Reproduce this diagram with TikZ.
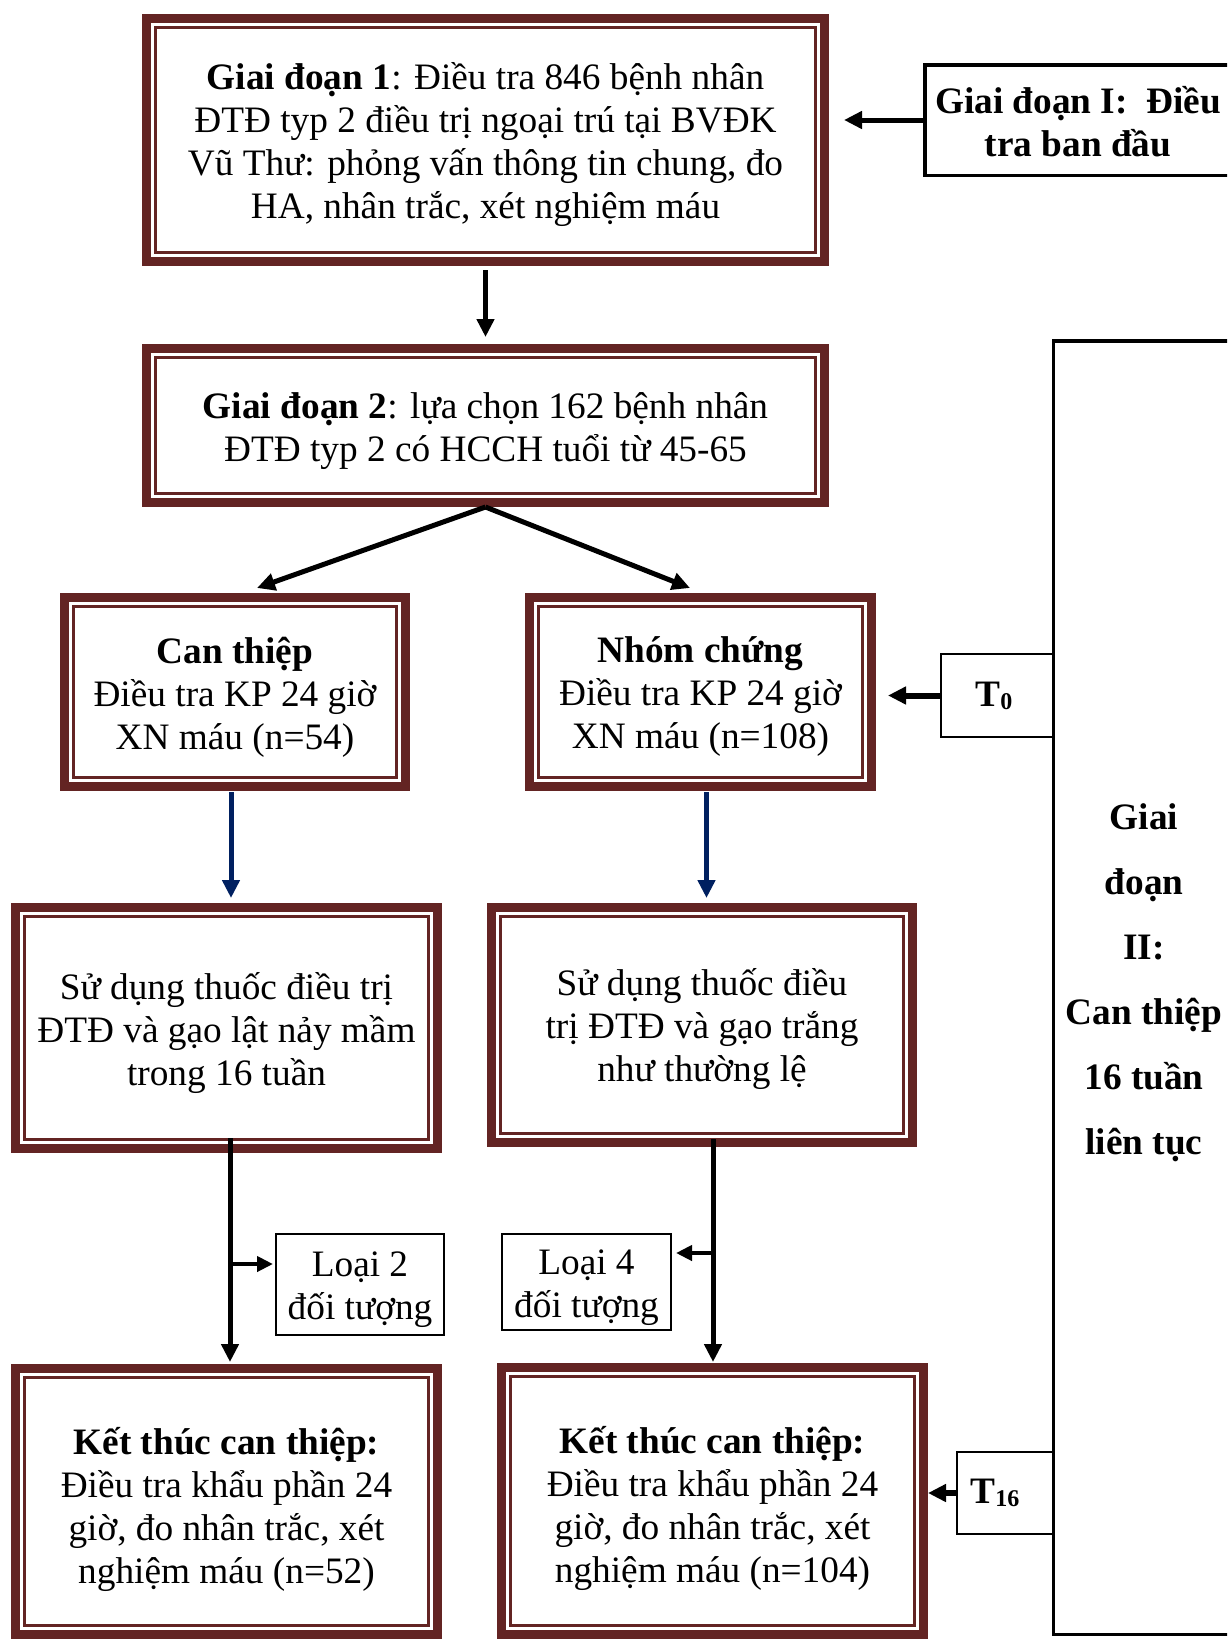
\documentclass[tikz,border=0pt]{standalone}
\usepackage{fontspec}
\setmainfont{Liberation Serif}
\usetikzlibrary{arrows.meta,calc}
\definecolor{boxred}{RGB}{99,36,35}
\definecolor{arrowblue}{RGB}{0,32,96}
\begin{document}
\begin{tikzpicture}[x=1pt,y=-1pt,
  txt/.style={font=\fontsize{37.3pt}{43pt}\selectfont, align=center, inner sep=0pt},
  dbox/.style={draw=boxred, line width=9pt, fill=white, inner sep=0pt,
    path picture={\draw[boxred,line width=3pt]
      ([shift={(9pt,-9pt)}]path picture bounding box.north west) rectangle
      ([shift={(-9pt,9pt)}]path picture bounding box.south east);}},
  sbox/.style={draw=black, line width=2pt, fill=white, inner sep=0pt},
  tbox/.style={draw=black, line width=3.5pt, fill=white, inner sep=0pt},
  arr/.style={draw=black, line width=5pt, -{Triangle[length=18pt,width=17pt]}},
  barr/.style={draw=arrowblue, line width=5pt, -{Triangle[length=18pt,width=17pt]}},
  sarr/.style={draw=black, line width=4.5pt, -{Triangle[length=16pt,width=15pt]}}
]
\useasboundingbox (0,0) rectangle (1227,1639);
\clip (0,0) rectangle (1227,1639);

% main double boxes
\node[dbox, minimum width=678pt, minimum height=243pt] (b1) at (485.5,140) {};
\node[txt] (b1t) at ($(b1.center)+(0,4.5)$)
  {\textbf{Giai đoạn 1}: Điều tra 846 bệnh nhân\\ĐTĐ typ 2 điều trị ngoại trú tại BVĐK\\Vũ Thư: phỏng vấn thông tin chung, đo\\HA, nhân trắc, xét nghiệm máu};
\node[dbox, minimum width=678pt, minimum height=154pt] (b2) at (485.5,425.5) {};
\node[txt] (b2t) at ($(b2.center)+(0,5.5)$)
  {\textbf{Giai đoạn 2}: lựa chọn 162 bệnh nhân\\ĐTĐ typ 2 có HCCH tuổi từ 45-65};
\node[dbox, minimum width=341pt, minimum height=189pt] (b3) at (235,692) {};
\node[txt] (b3t) at ($(b3.center)+(0,5)$)
  {\textbf{Can thiệp}\\Điều tra KP 24 giờ\\XN máu (n=54)};
\node[dbox, minimum width=342pt, minimum height=189pt] (b4) at (700.5,692) {};
\node[txt] (b4t) at ($(b4.center)+(0,5)$)
  {\textbf{Nhóm chứng}\\Điều tra KP 24 giờ\\XN máu (n=108)};
\node[dbox, minimum width=422pt, minimum height=241pt] (b5) at (226.5,1028) {};
\node[txt] (b5t) at ($(b5.center)+(0,5)$)
  {Sử dụng thuốc điều trị\\ĐTĐ và gạo lật nảy mầm\\trong 16 tuần};
\node[dbox, minimum width=421pt, minimum height=235pt] (b6) at (702,1025) {};
\node[txt] (b6t) at ($(b6.center)+(0,4)$)
  {Sử dụng thuốc điều\\trị ĐTĐ và gạo trắng\\như thường lệ};
\node[dbox, minimum width=422pt, minimum height=266pt] (b7) at (226.5,1501.5) {};
\node[txt] (b7t) at ($(b7.center)+(0,7.5)$)
  {\textbf{Kết thúc can thiệp:}\\Điều tra khẩu phần 24\\giờ, đo nhân trắc, xét\\nghiệm máu (n=52)};
\node[dbox, minimum width=422pt, minimum height=267pt] (b8) at (712.5,1501) {};
\node[txt] (b8t) at ($(b8.center)+(0,7.5)$)
  {\textbf{Kết thúc can thiệp:}\\Điều tra khẩu phần 24\\giờ, đo nhân trắc, xét\\nghiệm máu (n=104)};

% stage boxes on the right
\node[tbox, minimum width=306.5pt, minimum height=110.5pt] (s1) at (1078,120) {};
\node[txt, font=\fontsize{37.3pt}{43pt}\selectfont\bfseries] (s1t) at ($(s1.center)+(0,2)$)
  {Giai đoạn I:~~Điều\\tra ban đầu};
\node[tbox, minimum width=181.5pt, minimum height=1293.5pt] (p2) at (1144.25,987.75) {};
\node[txt, font=\fontsize{37.3pt}{65pt}\selectfont\bfseries] (p2t) at (1144,983)
  {Giai\\đoạn\\II:\\Can thiệp\\16 tuần\\liên tục};
\node[sbox, minimum width=112pt, minimum height=83pt] (t0) at (997,695.5) {};
\node[txt, font=\fontsize{37.3pt}{43pt}\selectfont\bfseries] (t0t) at ($(t0.center)+(-3,0)$)
  {T\raisebox{-3pt}{\fontsize{24pt}{24pt}\selectfont 0}};
\node[sbox, minimum width=96.5pt, minimum height=82pt] (t16) at (1005,1493) {};
\node[txt, font=\fontsize{37.3pt}{43pt}\selectfont\bfseries] (t16t) at ($(t16.center)+(-10,0)$)
  {T\raisebox{-3pt}{\fontsize{24pt}{24pt}\selectfont 16}};

% exclusion boxes
\node[sbox, minimum width=168pt, minimum height=101pt] (l2) at (360,1284.5) {};
\node[txt] (l2t) at ($(l2.center)+(0,5)$) {Loại 2\\đối tượng};
\node[sbox, minimum width=169pt, minimum height=96pt] (l4) at (586.5,1282) {};
\node[txt] (l4t) at ($(l4.center)+(0,6)$) {Loại 4\\đối tượng};

% connectors
\draw[arr, shorten >=15pt] (s1.west) -- (s1.west -| b1.east);
\draw[arr, shorten <=4pt, shorten >=7pt] (b1.south) -- (b2.north);
\draw[arr] (b2.south) -- ([xshift=22pt,yshift=5pt]b3.north);
\draw[arr] (b2.south) -- ([xshift=-10.5pt,yshift=5pt]b4.north);
\draw[arr, line width=6pt, shorten >=12pt] (t0.west) -- (t0.west -| b4.east);
\draw[barr, shorten <=1pt, shorten >=5pt] ($(b3.south)+(-4,0)$) -- ($(b3.south |- b5.north)+(-4,0)$);
\draw[barr, shorten <=1pt, shorten >=5pt] ($(b4.south)+(6,0)$) -- ($(b4.south |- b6.north)+(6,0)$);
\draw[arr, shorten <=-15pt, shorten >=2pt] ($(b5.south)+(3.5,0)$) -- ($(b5.south |- b7.north)+(3.5,0)$);
\draw[arr, shorten <=-8pt, shorten >=1pt] ($(b6.south)+(11,0)$) -- ($(b6.south |- b8.north)+(11,0)$);
\coordinate (j2) at (230,1264);
\coordinate (j4) at (713,1253);
\draw[sarr, shorten >=2pt] (j2) -- (j2 -| l2.west);
\draw[sarr, shorten >=4pt] (j4) -- (j4 -| l4.east);
\draw[arr, line width=6pt] (t16.west) -- (t16.west -| b8.east);
\end{tikzpicture}
\end{document}
